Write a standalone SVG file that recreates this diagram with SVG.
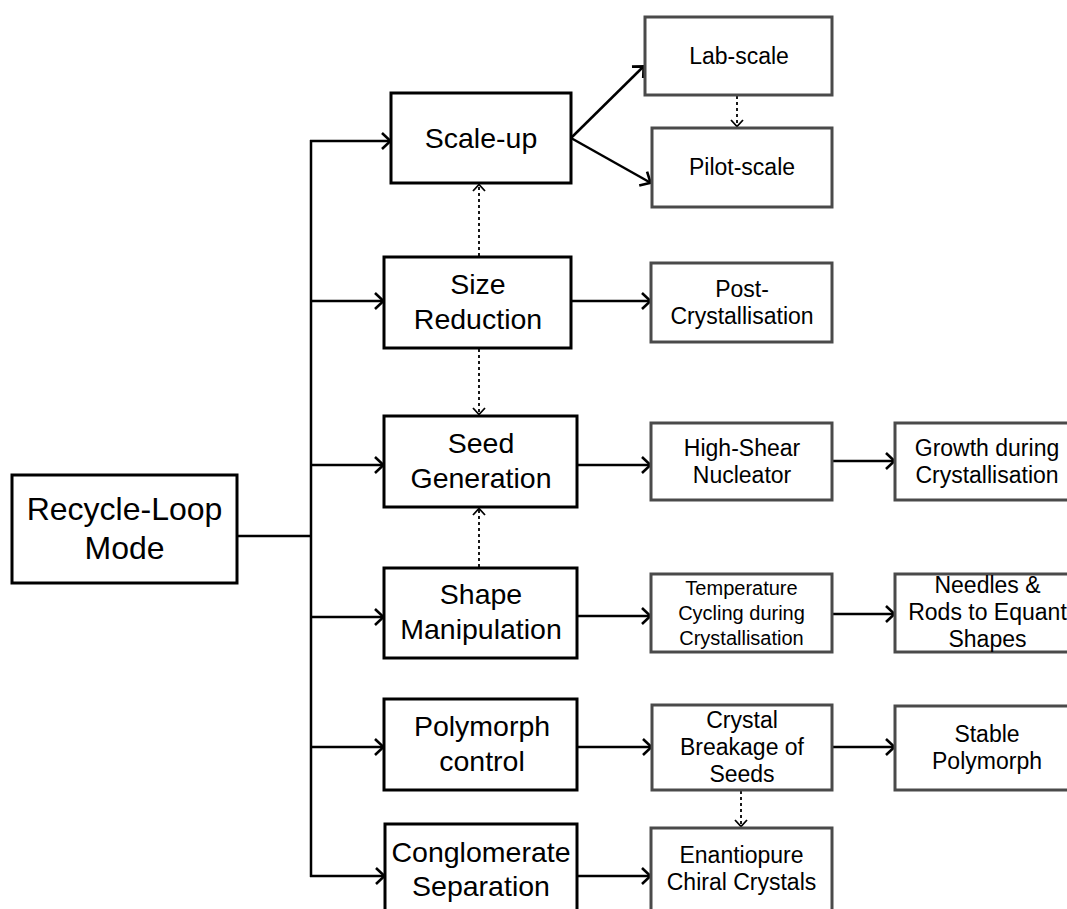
<svg xmlns="http://www.w3.org/2000/svg" width="1067" height="909" viewBox="0 0 1067 909">
<style>
.main{fill:#fff;stroke:#000;stroke-width:3}
.sub{fill:#fff;stroke:#4a4a4a;stroke-width:3}
.t{font-family:"Liberation Sans",Arial,sans-serif;fill:#000;text-anchor:middle}
.t32{font-size:32px}
.t29{font-size:28.5px}
.t23{font-size:23px}
.t20{font-size:20px}
.c{fill:none;stroke:#000;stroke-width:2.5}
.d{fill:none;stroke:#000;stroke-width:1.8;stroke-dasharray:3 3}
</style>
<defs>
<marker id="arr" viewBox="0 0 12 20" refX="11" refY="10" markerWidth="12" markerHeight="20" orient="auto" markerUnits="userSpaceOnUse">
<path d="M2,2 L10.5,10 L2,18" fill="none" stroke="#000" stroke-width="2.6"/>
</marker>
<marker id="darr" viewBox="0 0 10 16" refX="9" refY="8" markerWidth="10" markerHeight="16" orient="auto" markerUnits="userSpaceOnUse">
<path d="M2,2 L8.5,8 L2,14" fill="none" stroke="#000" stroke-width="1.8"/>
</marker>
</defs>
<rect width="1067" height="909" fill="#fff"/>

<g id="connectors">
<line class="c" x1="237" y1="536" x2="311" y2="536"/>
<line class="c" x1="311" y1="140" x2="311" y2="877"/>
<line class="c" x1="310" y1="141" x2="391" y2="141" marker-end="url(#arr)"/>
<line class="c" x1="310" y1="301" x2="384" y2="301" marker-end="url(#arr)"/>
<line class="c" x1="310" y1="465" x2="384" y2="465" marker-end="url(#arr)"/>
<line class="c" x1="310" y1="617" x2="384" y2="617" marker-end="url(#arr)"/>
<line class="c" x1="310" y1="747" x2="384" y2="747" marker-end="url(#arr)"/>
<line class="c" x1="310" y1="876" x2="385" y2="876" marker-end="url(#arr)"/>
<line class="c" x1="571" y1="138" x2="644" y2="66" marker-end="url(#arr)"/>
<line class="c" x1="571" y1="138" x2="651" y2="183" marker-end="url(#arr)"/>
<line class="c" x1="571" y1="301" x2="651" y2="301" marker-end="url(#arr)"/>
<line class="c" x1="577" y1="465" x2="651" y2="465" marker-end="url(#arr)"/>
<line class="c" x1="832" y1="461" x2="895" y2="461" marker-end="url(#arr)"/>
<line class="c" x1="577" y1="616" x2="651" y2="616" marker-end="url(#arr)"/>
<line class="c" x1="832" y1="614" x2="895" y2="614" marker-end="url(#arr)"/>
<line class="c" x1="577" y1="747" x2="652" y2="747" marker-end="url(#arr)"/>
<line class="c" x1="832" y1="747" x2="895" y2="747" marker-end="url(#arr)"/>
<line class="c" x1="577" y1="876" x2="651" y2="876" marker-end="url(#arr)"/>
<line class="d" x1="737" y1="96" x2="737" y2="127" marker-end="url(#darr)"/>
<line class="d" x1="479" y1="256" x2="479" y2="184" marker-end="url(#darr)"/>
<line class="d" x1="479" y1="349" x2="479" y2="415" marker-end="url(#darr)"/>
<line class="d" x1="479" y1="567" x2="479" y2="508" marker-end="url(#darr)"/>
<line class="d" x1="741" y1="791" x2="741" y2="827" marker-end="url(#darr)"/>
</g>

<g id="recycle">
<rect class="main" x="12" y="475" width="225" height="108"/>
<text class="t t32" x="124.5" y="520">Recycle-Loop</text>
<text class="t t32" x="124.5" y="559">Mode</text>
</g>
<g id="scaleup">
<rect class="main" x="391" y="93" width="180" height="90"/>
<text class="t t29" x="481" y="148">Scale-up</text>
</g>
<g id="sizereduction">
<rect class="main" x="384" y="257" width="187" height="91"/>
<text class="t t29" x="478" y="294">Size</text>
<text class="t t29" x="478" y="329">Reduction</text>
</g>
<g id="seedgeneration">
<rect class="main" x="384" y="416" width="193" height="91"/>
<text class="t t29" x="481" y="453">Seed</text>
<text class="t t29" x="481" y="488">Generation</text>
</g>
<g id="shapemanipulation">
<rect class="main" x="384" y="568" width="193" height="90"/>
<text class="t t29" x="481" y="604">Shape</text>
<text class="t t29" x="481" y="639">Manipulation</text>
</g>
<g id="polymorphcontrol">
<rect class="main" x="384" y="699" width="193" height="91"/>
<text class="t t29" x="482" y="736">Polymorph</text>
<text class="t t29" x="482" y="771">control</text>
</g>
<g id="conglomerate">
<rect class="main" x="385" y="824" width="192" height="100"/>
<text class="t t29" x="481" y="862">Conglomerate</text>
<text class="t t29" x="481" y="896">Separation</text>
</g>

<g id="labscale">
<rect class="sub" x="645" y="17" width="187" height="78"/>
<text class="t t23" x="739" y="64">Lab-scale</text>
</g>
<g id="pilotscale">
<rect class="sub" x="652" y="128" width="180" height="79"/>
<text class="t t23" x="742" y="175">Pilot-scale</text>
</g>
<g id="postcryst">
<rect class="sub" x="651" y="263" width="181" height="79"/>
<text class="t t23" x="742" y="297">Post-</text>
<text class="t t23" x="742" y="324">Crystallisation</text>
</g>
<g id="highshear">
<rect class="sub" x="651" y="423" width="181" height="77"/>
<text class="t t23" x="742" y="456">High-Shear</text>
<text class="t t23" x="742" y="483">Nucleator</text>
</g>
<g id="growth">
<rect class="sub" x="895" y="423" width="185" height="77"/>
<text class="t t23" x="987" y="456">Growth during</text>
<text class="t t23" x="987" y="483">Crystallisation</text>
</g>
<g id="tempcycling">
<rect class="sub" x="651" y="574" width="181" height="78"/>
<text class="t t20" x="741.5" y="595">Temperature</text>
<text class="t t20" x="741.5" y="620">Cycling during</text>
<text class="t t20" x="741.5" y="645">Crystallisation</text>
</g>
<g id="needles">
<rect class="sub" x="895" y="574" width="185" height="78"/>
<text class="t t23" x="987.5" y="593">Needles &amp;</text>
<text class="t t23" x="987.5" y="620">Rods to Equant</text>
<text class="t t23" x="987.5" y="647">Shapes</text>
</g>
<g id="crystalbreakage">
<rect class="sub" x="652" y="705" width="180" height="85"/>
<text class="t t23" x="742" y="728">Crystal</text>
<text class="t t23" x="742" y="755">Breakage of</text>
<text class="t t23" x="742" y="782">Seeds</text>
</g>
<g id="stablepolymorph">
<rect class="sub" x="895" y="706" width="185" height="84"/>
<text class="t t23" x="987" y="742">Stable</text>
<text class="t t23" x="987" y="769">Polymorph</text>
</g>
<g id="enantiopure">
<rect class="sub" x="651" y="828" width="181" height="96"/>
<text class="t t23" x="741.5" y="863">Enantiopure</text>
<text class="t t23" x="741.5" y="890">Chiral Crystals</text>
</g>
</svg>
